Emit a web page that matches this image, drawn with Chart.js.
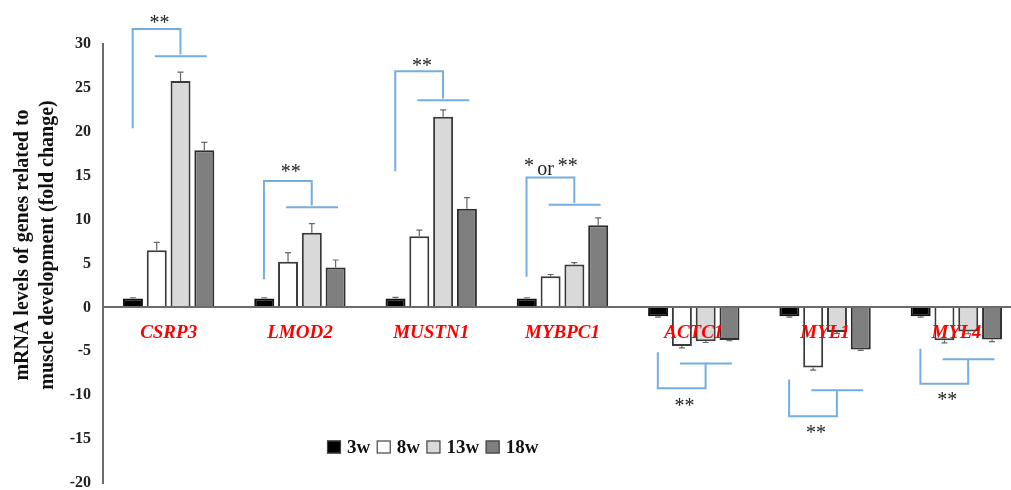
<!DOCTYPE html>
<html>
<head>
<meta charset="utf-8">
<script src="https://cdn.jsdelivr.net/npm/chart.js@4.4.1/dist/chart.umd.min.js"></script>
<style>
  html, body { margin: 0; padding: 0; background: #ffffff; }
  #wrap { width: 1011px; height: 490px; position: relative; }
</style>
</head>
<body>
<div id="wrap"><canvas id="chart" width="1011" height="490"></canvas></div>
<script>
// Genes (categories) and ages (series)
const genes = ['CSRP3', 'LMOD2', 'MUSTN1', 'MYBPC1', 'ACTC1', 'MYL1', 'MYL4'];
const weeks = ['3w', '8w', '13w', '18w'];

// Fold change per age
const fold3w  = [1, 1, 1, 1, -1, -1, -1];
const fold8w  = [6.5, 5.2, 8.1, 3.55, -4.4, -6.85, -3.75];
const fold13w = [25.8, 8.5, 21.7, 4.9, -3.85, -2.8, -2.75];
const fold18w = [17.9, 4.55, 11.25, 9.35, -3.7, -4.8, -3.65];

// Standard errors
const err3w  = [0.1, 0.1, 0.15, 0.1, 0.1, 0.1, 0.1];
const err8w  = [0.9, 1.05, 0.7, 0.2, 0.2, 0.3, 0.3];
const err13w = [1.0, 1.05, 0.8, 0.2, 0.15, 0.15, 0.25];
const err18w = [0.9, 0.85, 1.25, 0.85, 0.1, 0.1, 0.25];

// Y axis ticks
const yTicks = [30, 25, 20, 15, 10, 5, 0, -5, -10, -15, -20];

// Significance brackets (fold-change units): leg start, leg end, stem end, bar line, label
const sigLabels  = ['**', '**', '**', '* or **', '**', '**', '**'];
const sigLegFrom = [20.4, 3.2, 15.5, 3.5, -5.1, -8.2, -4.7];
const sigLegTo   = [31.7, 14.4, 26.9, 14.8, -9.2, -12.4, -8.7];
const sigStemTo  = [28.8, 11.6, 23.8, 11.9, -6.4, -9.4, -5.9];
const sigLineAt  = [28.6, 11.4, 23.6, 11.7, -6.4, -9.45, -5.9];
const sigTextAt  = [33.0, 16.0, 28.1, 16.7, -10.7, -13.7, -10.0];

const SERIF = '"Liberation Serif", "Times New Roman", serif';
const seriesStyle = [
  { fill: '#000000', border: '#111111' },
  { fill: '#ffffff', border: '#3a3a3a' },
  { fill: '#d9d9d9', border: '#3a3a3a' },
  { fill: '#7f7f7f', border: '#2e2e2e' }
];
const seriesValues = [fold3w, fold8w, fold13w, fold18w];
const seriesErrors = [err3w, err8w, err13w, err18w];

const datasets = weeks.map((w, i) => ({
  label: w,
  data: seriesValues[i],
  errors: seriesErrors[i],
  backgroundColor: seriesStyle[i].fill,
  borderColor: seriesStyle[i].border,
  borderWidth: 2,
  categoryPercentage: 0.725,
  barPercentage: 0.84
}));

// Fixed plot frame: the category band runs a little past the right edge of the canvas
const plotFrame = {
  id: 'plotFrame',
  afterLayout(chart) {
    const a = chart.chartArea;
    a.left = 103; a.right = 1022; a.width = 919;
    a.top = 44; a.bottom = 483; a.height = 439;
    const x = chart.scales.x, y = chart.scales.y;
    x.left = a.left; x.right = a.right; x.width = a.width;
    y.top = a.top; y.bottom = a.bottom; y.height = a.height;
    x.configure();
    y.configure();
  }
};

// Error bars: drawn away from zero with a small cap
const errorBars = {
  id: 'errorBars',
  afterDatasetsDraw(chart) {
    const ctx = chart.ctx;
    const y = chart.scales.y;
    ctx.save();
    ctx.strokeStyle = '#666666';
    ctx.lineWidth = 1.2;
    chart.data.datasets.forEach((ds, di) => {
      const meta = chart.getDatasetMeta(di);
      meta.data.forEach((bar, j) => {
        const v = ds.data[j];
        const e = ds.errors[j];
        const end = v >= 0 ? v + e : v - e;
        const y0 = bar.y;
        const y1 = y.getPixelForValue(end);
        ctx.beginPath();
        ctx.moveTo(bar.x, y0);
        ctx.lineTo(bar.x, y1);
        ctx.moveTo(bar.x - 3, y1);
        ctx.lineTo(bar.x + 3, y1);
        ctx.stroke();
      });
    });
    ctx.restore();
  }
};

// Significance brackets and asterisks
const sigMarks = {
  id: 'sigMarks',
  afterDraw(chart) {
    const ctx = chart.ctx;
    const xs = chart.scales.x;
    const ys = chart.scales.y;
    const step = xs.getPixelForValue(1) - xs.getPixelForValue(0);
    ctx.save();
    ctx.strokeStyle = '#74aee0';
    ctx.lineWidth = 2;
    ctx.lineJoin = 'miter';
    genes.forEach((g, i) => {
      const cx = xs.getPixelForValue(i);
      const legX = cx - 0.274 * step;
      const cornerX = cx + 0.09 * step;
      const lineL = cx - 0.105 * step;
      const lineR = cx + 0.29 * step;
      ctx.beginPath();
      ctx.moveTo(legX, ys.getPixelForValue(sigLegFrom[i]));
      ctx.lineTo(legX, ys.getPixelForValue(sigLegTo[i]));
      ctx.lineTo(cornerX, ys.getPixelForValue(sigLegTo[i]));
      ctx.lineTo(cornerX, ys.getPixelForValue(sigStemTo[i]));
      ctx.stroke();
      ctx.beginPath();
      ctx.moveTo(lineL, ys.getPixelForValue(sigLineAt[i]));
      ctx.lineTo(lineR, ys.getPixelForValue(sigLineAt[i]));
      ctx.stroke();

      ctx.fillStyle = '#222222';
      ctx.textAlign = 'center';
      ctx.textBaseline = 'alphabetic';
      ctx.font = '20px ' + SERIF;
      const ty = ys.getPixelForValue(sigTextAt[i]) + 11;
      const parts = sigLabels[i].split(' or ');
      if (parts.length === 2) {
        ctx.fillText(parts[0], cx - 0.255 * step, ty);
        ctx.fillText(parts[1], cx + 0.04 * step, ty);
        ctx.fillText('or', cx - 0.128 * step, ty + 3);
      } else {
        ctx.fillText(sigLabels[i], cx - 0.07 * step, ty);
      }
    });
    ctx.restore();
  }
};

// Legend row under the negative bars
const legendRow = {
  id: 'legendRow',
  afterDraw(chart) {
    const ctx = chart.ctx;
    ctx.save();
    ctx.font = 'bold 19px ' + SERIF;
    ctx.textBaseline = 'middle';
    ctx.textAlign = 'left';
    let x = 327;
    const cy = 447;
    chart.data.datasets.forEach((ds) => {
      ctx.fillStyle = ds.backgroundColor;
      ctx.fillRect(x, cy - 6.5, 14, 13);
      ctx.strokeStyle = '#444444';
      ctx.lineWidth = 1.2;
      ctx.strokeRect(x + 0.5, cy - 6, 13, 12);
      x += 20;
      ctx.fillStyle = '#111111';
      ctx.fillText(ds.label, x, cy + 1);
      x += ctx.measureText(ds.label).width + 6.5;
    });
    ctx.restore();
  }
};

// Two-line rotated axis title
const yTitle = {
  id: 'yTitle',
  afterDraw(chart) {
    const ctx = chart.ctx;
    ctx.save();
    ctx.font = 'bold 20px ' + SERIF;
    ctx.fillStyle = '#111111';
    ctx.textAlign = 'center';
    ctx.textBaseline = 'middle';
    ctx.translate(0, 245);
    ctx.rotate(-Math.PI / 2);
    ctx.fillText('mRNA levels of genes related to', 0, 23);
    ctx.fillText('muscle development (fold change)', 0, 48);
    ctx.restore();
  }
};

new Chart(document.getElementById('chart'), {
  type: 'bar',
  data: { labels: genes, datasets },
  options: {
    responsive: false,
    animation: false,
    layout: { padding: { top: 44, bottom: 7, left: 0, right: 0 } },
    plugins: { legend: { display: false }, tooltip: { enabled: false } },
    scales: {
      x: {
        position: { y: 0 },
        grid: { display: false, drawTicks: false },
        border: { display: true, color: '#6b6b6b', width: 2, z: 1 },
        ticks: {
          z: 1,
          color: '#ff0000',
          padding: 14,
          font: { family: SERIF, size: 19, style: 'italic', weight: 'bold' }
        }
      },
      y: {
        min: -20,
        max: 30,
        afterFit(scale) { scale.width = 103; },
        afterBuildTicks(scale) { scale.ticks = yTicks.map(v => ({ value: v })); },
        grid: { display: false, drawTicks: false },
        border: { display: true, color: '#6b6b6b', width: 2 },
        ticks: {
          color: '#222222',
          padding: 12,
          font: { family: SERIF, size: 16, weight: 'bold' }
        }
      }
    }
  },
  plugins: [plotFrame, errorBars, sigMarks, legendRow, yTitle]
});
</script>
</body>
</html>
